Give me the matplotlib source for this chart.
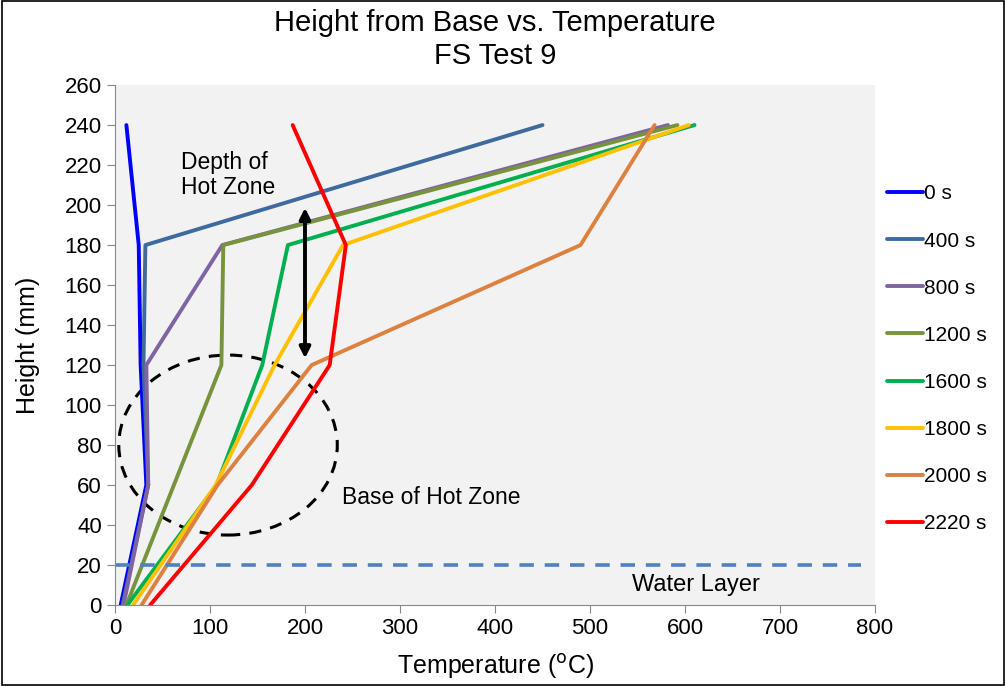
import matplotlib.pyplot as plt
from matplotlib.patches import Ellipse, Rectangle

plt.rcParams['font.family'] = ['Liberation Sans', 'DejaVu Sans']

heights = [0, 60, 120, 180, 240]
labels = ['0 s', '400 s', '800 s', '1200 s', '1600 s', '1800 s', '2000 s', '2220 s']
colors = ['#0000FF', '#3E6A9E', '#8064A2', '#77933C', '#00B050', '#FFC000', '#DC8140', '#FF0000']
temps = [
    [6, 33, 27, 25, 12],
    [8, 35, 30, 32, 450],
    [9, 35, 33, 113, 582],
    [12, 62, 112, 114, 592],
    [13, 107, 155, 182, 610],
    [19, 106, 168, 240, 604],
    [28, 108, 207, 490, 568],
    [37, 144, 226, 243, 187],
]

fig = plt.figure(figsize=(10.06, 6.86), dpi=100)
ax = fig.add_axes([0.1143, 0.118, 0.7555, 0.758])
ax.set_facecolor('#F2F2F2')

for t, lab, c in zip(temps, labels, colors):
    ax.plot(t, heights, color=c, lw=2.8, label=lab, solid_capstyle='round')

# water layer
ax.plot([0, 785], [20, 20], ls=(0, (4, 3)), color='#4F81BD', lw=2.6)
ax.text(544, 10, 'Water Layer', fontsize=17, va='center')

# base of hot zone
ax.add_patch(Ellipse((119, 80), 230, 90, fill=False, ls=(0, (4, 3)), lw=2.2, ec='black'))
ax.text(239, 54, 'Base of Hot Zone', fontsize=16.5, va='center')

# depth of hot zone
ax.annotate('', xy=(200, 200), xytext=(200, 122),
            arrowprops=dict(arrowstyle='<|-|>', color='black', lw=2.8, mutation_scale=16))
ax.text(70, 215, 'Depth of\nHot Zone', fontsize=16.5, va='center', linespacing=1.1)

ax.set_xlim(0, 800)
ax.set_ylim(0, 260)
ax.set_xticks(range(0, 801, 100))
ax.set_yticks(range(0, 261, 20))
ax.tick_params(labelsize=16, color='#888888', length=6)
for s in ['top', 'right']:
    ax.spines[s].set_visible(False)
for s in ['left', 'bottom']:
    ax.spines[s].set_color('#888888')
ax.set_xlabel('Temperature ($^{\\mathrm{o}}$C)', fontsize=18, labelpad=9)
ax.set_ylabel('Height (mm)', fontsize=18, labelpad=18)
ax.set_title('Height from Base vs. Temperature\nFS Test 9', fontsize=21, pad=15, linespacing=1.25)

ax.legend(loc='upper left', bbox_to_anchor=(1.005, 0.825), frameon=False, fontsize=15,
          handlelength=1.7, handletextpad=0.05, labelspacing=1.35, borderaxespad=0)

fig.patches.append(Rectangle((0.002, 0.002), 0.996, 0.996, transform=fig.transFigure,
                             fill=False, ec='black', lw=1.2))

fig.savefig('out.png', dpi=100)
